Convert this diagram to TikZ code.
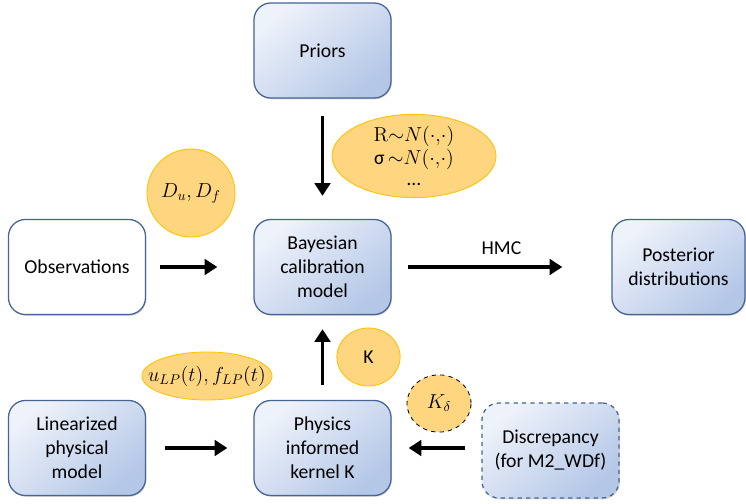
\documentclass[tikz,border=0pt]{standalone}
\usepackage[no-math]{fontspec}
\setmainfont{Carlito}
\usetikzlibrary{arrows.meta,shapes.geometric,shadows}

\definecolor{boxtop}{RGB}{238,242,250}
\definecolor{boxbot}{RGB}{180,199,231}
\definecolor{boxline}{RGB}{70,100,150}
\definecolor{bubfill}{RGB}{255,214,128}
\definecolor{bubline}{RGB}{255,192,0}

\tikzset{
  block/.style={rectangle, rounded corners=12pt, draw=boxline, line width=0.9pt,
    top color=boxtop, bottom color=boxbot, shading angle=40,
    minimum width=3.425cm, minimum height=2.375cm, align=center,
    font=\fontsize{14}{17}\selectfont,
    drop shadow={opacity=0.35, shadow xshift=0.6pt, shadow yshift=-0.9pt}},
  bubble/.style={ellipse, draw=bubline, fill=bubfill, line width=0.6pt,
    inner sep=0pt, align=center, font=\fontsize{14}{16.5}\selectfont},
  flow/.style={line width=2.6pt, -{Triangle[length=9pt,width=11pt]}}
}

\begin{document}
\begin{tikzpicture}[x=0.025cm, y=-0.025cm]
        \useasboundingbox (0,0) rectangle (746,504);

        % Boxes
        \node[block] (priors) at (322.5,50.5) {Priors};
        \node[block, fill=white, top color=white, bottom color=white] (obs) at (77,267) {Observations};
        \node[block] (bayes) at (322.5,267) {Bayesian\\calibration\\model};
        \node[block, minimum width=3.325cm] (post) at (678.5,267) {Posterior\\distributions};
        \node[block] (lin) at (77,448) {Linearized\\physical\\model};
        \node[block] (kernel) at (322.5,448) {Physics\\informed\\kernel K};
        \node[block, dashed] (disc) at (550.5,450.5) {Discrepancy\\(for M2\_WDf)};

        % Bubbles
        \node[bubble, minimum width=2.2cm, minimum height=2.2cm] (data) at (191,193) {$D_u, D_f$};
        \node[bubble, minimum width=4.1cm, minimum height=1.8cm] (prior) at (414,156)
            {$\mathrm{R}{\sim}N(\cdot{,}\cdot)$\\σ\,${\sim}N(\cdot{,}\cdot)$\\[-2pt]\ldots};
        \node[bubble, inner sep=-10pt, minimum width=3.25cm, minimum height=1.2cm] (ulp) at (207,376) {$u_{LP}(t), f_{LP}(t)$};
        \node[bubble, minimum width=1.58cm, minimum height=1.45cm] (kk) at (368.5,357) {K};
        \node[bubble, draw=black, dashed, minimum width=1.6cm, minimum height=1.43cm] (kd) at (439,403.5) {$K_\delta$};

        % Arrows
        \draw[flow, shorten <=0.425cm, shorten >=0.575cm] (priors) -- (bayes);
        \draw[flow, shorten <=0.35cm, shorten >=0.9cm] (obs) -- (bayes);
        \draw[flow, shorten <=0.4cm, shorten >=1.225cm] (bayes) -- node[above=4pt, font=\fontsize{14}{17}\selectfont] {HMC} (post);
        \draw[flow, shorten <=0.375cm, shorten >=0.35cm] (kernel) -- (bayes);
        \draw[flow, shorten <=0.475cm, shorten >=0.65cm] (lin) -- (kernel);
        \draw[flow, shorten <=0.4cm, shorten >=0.425cm] (disc.west |- kernel) -- (kernel);
    \end{tikzpicture}
\end{document}
